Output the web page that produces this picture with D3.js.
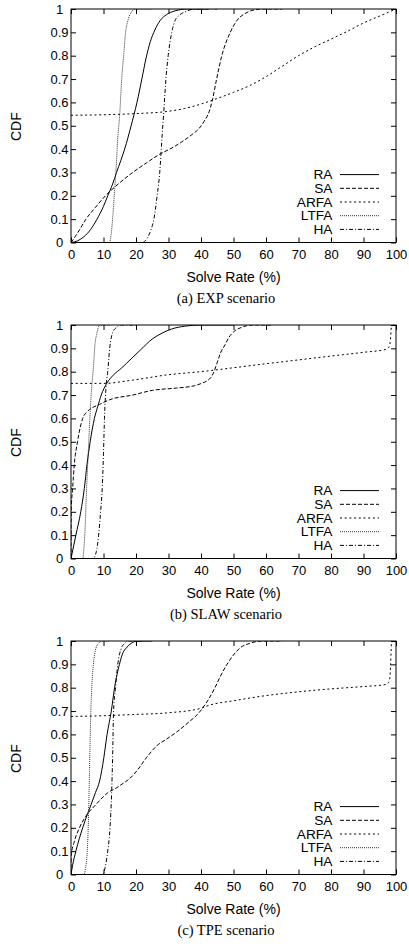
<!DOCTYPE html>
<html>
<head>
<meta charset="utf-8">
<script src="https://cdn.jsdelivr.net/npm/d3@7"></script>
<style>
body { margin: 0; background: #fff; }
svg text { font-family: "Liberation Sans", Arial, sans-serif; font-size: 13px; fill: #000; }
svg text.title { font-size: 14px; }
svg text.legend { font-size: 13.7px; }
svg text.caption { font-family: "Liberation Serif", "Times New Roman", serif; font-size: 14.5px; }
</style>
</head>
<body>
<svg id="fig" width="409" height="947"></svg>
<script>
// données : [taux de résolution (%), CDF]
const series = ["RA", "SA", "ARFA", "LTFA", "HA"];
const captions = ["(a) EXP scenario", "(b) SLAW scenario", "(c) TPE scenario"];
const xTicks = [0, 10, 20, 30, 40, 50, 60, 70, 80, 90, 100];
const yTicks = [0, 0.1, 0.2, 0.3, 0.4, 0.5, 0.6, 0.7, 0.8, 0.9, 1];

const expRA = [[0,0],[2,0.007],[4,0.025],[6,0.055],[8,0.1],[10,0.155],[11.3,0.2],[12.8,0.25],[14,0.3],[15.3,0.35],[16.5,0.4],[18.5,0.5],[20.3,0.6],[21.8,0.7],[23.1,0.79],[24.4,0.86],[25.8,0.91],[27.4,0.95],[29.4,0.976],[32,0.992],[36,1],[42,1]];
const expSA = [[0,0],[2,0.04],[4.6,0.1],[7.5,0.15],[10.6,0.2],[14.5,0.25],[19,0.3],[24.2,0.35],[27.5,0.38],[30.4,0.4],[34,0.43],[37,0.46],[39.5,0.49],[41,0.52],[42.5,0.56],[43.5,0.61],[44.8,0.7],[46.4,0.8],[49,0.9],[51,0.95],[53.5,0.98],[56,0.995],[59,1],[65,1]];
const expARFA = [[0,0.545],[10,0.547],[20,0.552],[30,0.562],[35,0.574],[40,0.593],[45,0.617],[50,0.643],[55,0.672],[60,0.71],[65,0.755],[70,0.8],[75,0.838],[80,0.871],[85,0.904],[90,0.94],[95,0.97],[100,1]];
const expLTFA = [[0,0],[11.8,0],[12.3,0.03],[12.8,0.1],[13.3,0.2],[13.8,0.3],[14.4,0.45],[15,0.55],[15.6,0.7],[16.2,0.8],[16.8,0.9],[17.5,0.95],[18.5,0.985],[19.8,1],[25,1]];
const expHA = [[0,0],[22,0],[23.5,0.02],[24.5,0.05],[25.5,0.1],[26.5,0.2],[27.3,0.3],[28,0.45],[28.5,0.55],[29.2,0.7],[29.9,0.8],[31,0.9],[32,0.95],[33.5,0.975],[35.5,0.99],[38,1],[45,1]];

const slawRA = [[0,0],[1.5,0.1],[3,0.2],[4.1,0.3],[4.9,0.4],[5.9,0.5],[7.2,0.6],[8.2,0.65],[9.3,0.7],[11,0.75],[13,0.785],[15.5,0.815],[18.5,0.855],[21.5,0.895],[25,0.94],[28,0.965],[31,0.983],[35,0.995],[40,1],[50,1]];
const slawSA = [[0,0],[0.05,0.2],[0.5,0.3],[1,0.4],[2,0.5],[3.6,0.6],[5.1,0.63],[8.8,0.66],[11.9,0.68],[19,0.7],[25,0.72],[32.5,0.73],[38,0.74],[40.5,0.752],[42,0.762],[43,0.775],[44,0.8],[45,0.84],[46,0.88],[47.4,0.915],[48.5,0.945],[50,0.97],[52.5,0.99],[56,1],[62,1]];
const slawARFA = [[0,0.75],[10,0.75],[19,0.764],[29.4,0.786],[39.7,0.8],[44.3,0.807],[50,0.817],[59.4,0.833],[69.7,0.85],[80,0.867],[90,0.883],[97,0.896],[98,0.91],[98.6,1]];
const slawLTFA = [[0,0],[3.6,0],[4,0.05],[4.4,0.15],[4.8,0.3],[5.3,0.45],[5.8,0.6],[6.3,0.72],[6.9,0.82],[7.4,0.92],[7.9,0.96],[8.8,1],[12,1]];
const slawHA = [[0,0],[6.8,0],[7.8,0.03],[8.5,0.1],[9.1,0.2],[9.6,0.3],[10,0.45],[10.3,0.6],[10.7,0.72],[11.3,0.8],[11.9,0.9],[12.9,0.97],[14,0.99],[15,1],[20,1]];

const tpeRA = [[0,0],[0.5,0.04],[1.5,0.1],[3.6,0.2],[5.1,0.26],[6.2,0.3],[7.5,0.35],[8.8,0.4],[10.1,0.5],[11.1,0.6],[12.4,0.7],[13.4,0.8],[14.9,0.9],[16,0.95],[17,0.97],[18.5,0.99],[20.6,1],[25,1]];
const tpeSA = [[0,0],[0.05,0.08],[1,0.14],[2.6,0.2],[4.6,0.25],[7.7,0.3],[11.3,0.35],[13.9,0.37],[16,0.39],[18,0.41],[20.6,0.45],[23.2,0.5],[26.3,0.55],[29.4,0.58],[32.5,0.61],[36,0.65],[39.2,0.69],[42.3,0.75],[44.3,0.8],[46,0.85],[48,0.9],[50,0.94],[52,0.97],[55,0.99],[59,1],[65,1]];
const tpeARFA = [[0,0.677],[10,0.68],[19,0.685],[29.4,0.692],[39.7,0.711],[42.8,0.726],[50,0.744],[59.4,0.765],[69.7,0.782],[80,0.795],[90,0.805],[97,0.814],[98,0.83],[98.6,1]];
const tpeLTFA = [[0,0],[4,0],[4.5,0.03],[5,0.1],[5.4,0.25],[5.7,0.45],[6.1,0.7],[6.5,0.83],[6.9,0.9],[7.7,0.97],[8.5,0.99],[9.3,1],[12,1]];
const tpeHA = [[0,0],[9.8,0],[10.5,0.03],[11.3,0.1],[12,0.2],[12.5,0.35],[12.8,0.5],[13.1,0.7],[13.7,0.8],[14.4,0.9],[15.5,0.97],[16.5,0.99],[17.5,1],[22,1]];

const panels = [
	[expRA, expSA, expARFA, expLTFA, expHA],
	[slawRA, slawSA, slawARFA, slawLTFA, slawHA],
	[tpeRA, tpeSA, tpeARFA, tpeLTFA, tpeHA]
];

// styles de trait façon gnuplot
const dashes = {RA: null, SA: "4,2", ARFA: "2,2.7", LTFA: "1,1", HA: "4,2,1,2"};
const strokes = {RA: "#000", SA: "#000", ARFA: "#000", LTFA: "#333", HA: "#000"};

let svg = d3.select("#fig");
let left = 71, right = 396, h = 233.5;

function cdfPanel(k, curves) {
	let top = 9 + k * 316;
	let g = svg.append("g");
	let x = d3.scaleLinear().domain([0, 100]).range([left, right]);
	let y = d3.scaleLinear().domain([0, 1]).range([top + h, top]);

	g.append("g")
		.attr("transform", `translate(0,${top + h})`)
		.call(d3.axisBottom(x).tickValues(xTicks).tickSizeInner(-5).tickSizeOuter(0).tickPadding(7));
	g.append("g")
		.attr("transform", `translate(0,${top})`)
		.call(d3.axisTop(x).tickValues(xTicks).tickSizeInner(-5).tickSizeOuter(0).tickFormat(""));
	let leftAxis = g.append("g")
		.attr("transform", `translate(${left},0)`)
		.call(d3.axisLeft(y).tickValues(yTicks).tickSizeInner(-5).tickSizeOuter(0).tickFormat(d3.format("")));
	g.append("g")
		.attr("transform", `translate(${right},0)`)
		.call(d3.axisRight(y).tickValues(yTicks).tickSizeInner(-5).tickSizeOuter(0).tickFormat(""));
	g.selectAll(".domain").remove();
	leftAxis.selectAll("text")
		.attr("text-anchor", "middle")
		.attr("x", -11.5);

	g.append("clipPath")
		.attr("id", "clip" + k)
		.append("rect")
		.attr("x", left).attr("y", top)
		.attr("width", right - left).attr("height", h);

	let line = d3.line()
		.x(d => x(d[0]))
		.y(d => y(d[1]))
		.curve(d3.curveMonotoneX);
	g.append("g")
		.attr("clip-path", `url(#clip${k})`)
		.selectAll("path")
		.data(curves)
		.join("path")
		.attr("d", line)
		.attr("fill", "none")
		.attr("stroke", (d, i) => strokes[series[i]])
		.attr("stroke-width", 1)
		.attr("stroke-dasharray", (d, i) => dashes[series[i]]);

	g.append("rect")
		.attr("x", left).attr("y", top)
		.attr("width", right - left).attr("height", h)
		.attr("fill", "none")
		.attr("stroke", "#000")
		.attr("stroke-width", 1);

	// légende
	let leg = g.append("g")
		.selectAll("g")
		.data(series)
		.join("g")
		.attr("transform", (d, i) => `translate(0,${top + 170.3 + i * 13.7})`);
	leg.append("text")
		.attr("class", "legend")
		.attr("x", 332.5)
		.attr("text-anchor", "end")
		.text(d => d);
	leg.append("line")
		.attr("x1", 340).attr("x2", 379)
		.attr("y1", -4.7).attr("y2", -4.7)
		.attr("stroke", d => strokes[d])
		.attr("stroke-width", 1)
		.attr("stroke-dasharray", d => dashes[d]);

	g.append("text")
		.attr("class", "title")
		.attr("x", (left + right) / 2)
		.attr("y", top + 272.5)
		.attr("text-anchor", "middle")
		.text("Solve Rate (%)");
	g.append("text")
		.attr("class", "title")
		.attr("transform", `translate(20.5,${top + 117.6}) rotate(-90)`)
		.attr("text-anchor", "middle")
		.text("CDF");
	g.append("text")
		.attr("class", "caption")
		.attr("x", 226)
		.attr("y", top + 293.5)
		.attr("text-anchor", "middle")
		.text(captions[k]);
}

panels.forEach((curves, k) => cdfPanel(k, curves));
</script>
</body>
</html>
